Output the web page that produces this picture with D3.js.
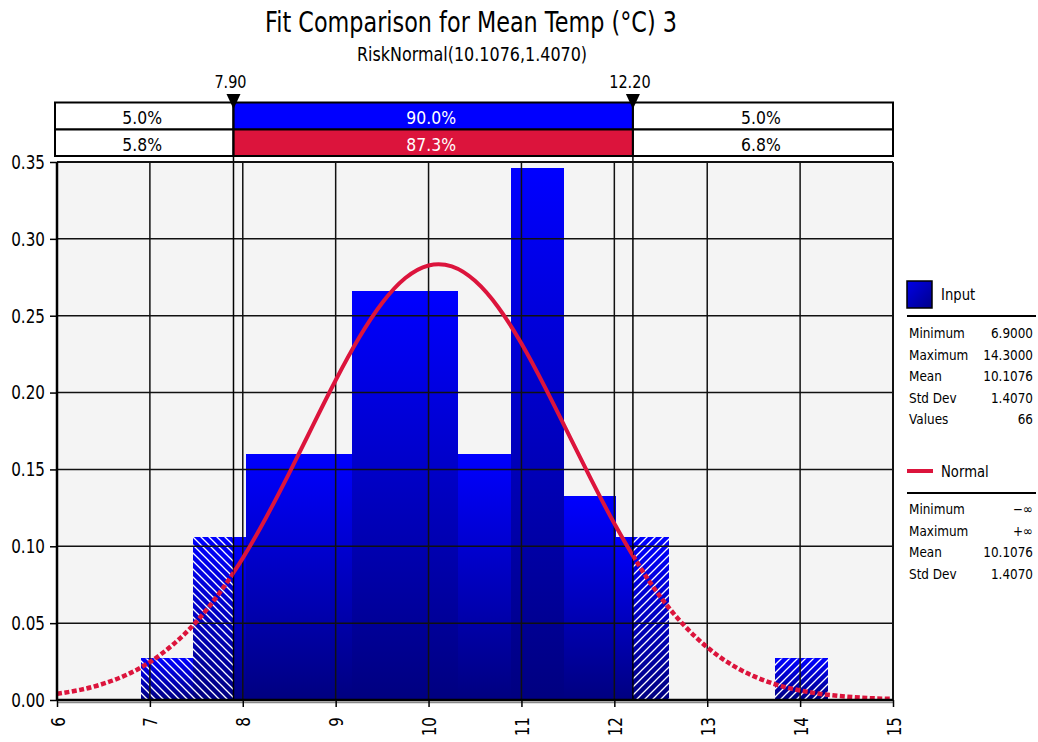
<!DOCTYPE html>
<html>
<head>
<meta charset="utf-8">
<script src="https://cdn.jsdelivr.net/npm/d3@7"></script>
<style>
  body { margin: 0; background: #fff; }
  svg { display: block; }
  text { font-family: "DejaVu Sans", sans-serif; fill: #000; }
</style>
</head>
<body>
<svg id="chart" width="1038" height="742"></svg>
<script>
// ---- data ----
var titleText = 'Fit Comparison for Mean Temp (°C) 3';
var subtitleText = 'RiskNormal(10.1076,1.4070)';

// histogram bins (13 equal bins from min 6.9 to max 14.3) and their density
var binEdges = [6.9, 7.469, 8.038, 8.608, 9.177, 9.746, 10.315, 10.885, 11.454, 12.023, 12.592, 13.162, 13.731, 14.3];
var binDensity = [0.027, 0.106, 0.160, 0.160, 0.266, 0.266, 0.160, 0.346, 0.133, 0.106, 0, 0, 0.027];

// fitted normal curve, read every 0.25
var curveX = [6, 6.25, 6.5, 6.75, 7, 7.25, 7.5, 7.75, 8, 8.25, 8.5, 8.75, 9, 9.25, 9.5, 9.75, 10, 10.25,
  10.5, 10.75, 11, 11.25, 11.5, 11.75, 12, 12.25, 12.5, 12.75, 13, 13.25, 13.5, 13.75, 14, 14.25, 14.5, 14.75, 15];
var curveY = [0.0040, 0.0066, 0.0106, 0.0164, 0.0247, 0.0361, 0.0509, 0.0697, 0.0923, 0.1186, 0.1476, 0.1780,
  0.2080, 0.2355, 0.2583, 0.2745, 0.2827, 0.2821, 0.2727, 0.2555, 0.2319, 0.2039, 0.1738, 0.1435, 0.1148,
  0.0890, 0.0668, 0.0486, 0.0343, 0.0234, 0.0155, 0.0099, 0.0062, 0.0037, 0.0022, 0.0012, 0.0007];

var markers = [7.90, 12.20];
var markerLabels = ['7.90', '12.20'];
var pctInput = ['5.0%', '90.0%', '5.0%'];
var pctFit = ['5.8%', '87.3%', '6.8%'];

var xTicks = [6, 7, 8, 9, 10, 11, 12, 13, 14, 15];
var yTicks = [0, 0.05, 0.10, 0.15, 0.20, 0.25, 0.30, 0.35];

var inputStatNames = ['Minimum', 'Maximum', 'Mean', 'Std Dev', 'Values'];
var inputStatValues = ['6.9000', '14.3000', '10.1076', '1.4070', '66'];
var fitStatNames = ['Minimum', 'Maximum', 'Mean', 'Std Dev'];
var fitStatValues = ['\u2212\u221e', '+\u221e', '10.1076', '1.4070'];

var BLUE = '#0000ff', CRIMSON = '#dc143c';

var svg = d3.select('#chart');
var defs = svg.append('defs');

var plot = {left: 57, right: 893, top: 162, bottom: 700};
var x = d3.scaleLinear().domain([6, 15]).range([plot.left, plot.right]);
var y = d3.scaleLinear().domain([0, 0.35]).range([plot.bottom, plot.top]);

// condense text horizontally (the reference font is narrow)
function squeeze(sel, k) {
  sel.each(function() {
    var w = this.getComputedTextLength();
    d3.select(this).attr('textLength', w * k).attr('lengthAdjust', 'spacingAndGlyphs');
  });
}

// ---- defs: gradients, hatches, clips ----
var grad = defs.append('linearGradient').attr('id', 'barGrad')
  .attr('x1', 0).attr('y1', 0).attr('x2', 0).attr('y2', 1);
grad.append('stop').attr('offset', 0).attr('stop-color', '#0000ff');
grad.append('stop').attr('offset', 1).attr('stop-color', '#000080');

var lgGrad = defs.append('linearGradient').attr('id', 'legGrad')
  .attr('x1', 0).attr('y1', 0).attr('x2', 1).attr('y2', 1);
lgGrad.append('stop').attr('offset', 0).attr('stop-color', '#0000e8');
lgGrad.append('stop').attr('offset', 1).attr('stop-color', '#00008a');

defs.append('pattern').attr('id', 'hatchBack')
  .attr('patternUnits', 'userSpaceOnUse').attr('width', 8).attr('height', 8)
  .append('path').attr('d', 'M0,0L8,8M-2,6L2,10M6,-2L10,2')
  .attr('stroke', '#fff').attr('stroke-width', 1.3);
defs.append('pattern').attr('id', 'hatchFwd')
  .attr('patternUnits', 'userSpaceOnUse').attr('width', 8).attr('height', 8)
  .append('path').attr('d', 'M0,8L8,0M-2,2L2,-2M6,10L10,6')
  .attr('stroke', '#fff').attr('stroke-width', 1.3);

function clipRects(id, rects) {
  var cp = defs.append('clipPath').attr('id', id);
  rects.forEach(function(r) {
    cp.append('rect').attr('x', r[0]).attr('y', plot.top).attr('width', r[1] - r[0]).attr('height', plot.bottom - plot.top);
  });
}
clipRects('clipPlot', [[plot.left, plot.right]]);
clipRects('clipLeft', [[plot.left, x(markers[0])]]);
clipRects('clipRight', [[x(markers[1]), plot.right]]);
clipRects('clipMid', [[x(markers[0]), x(markers[1])]]);
clipRects('clipOut', [[plot.left, x(markers[0])], [x(markers[1]), plot.right]]);

// ---- titles ----
var title = svg.append('text').attr('x', 471).attr('y', 32).attr('text-anchor', 'middle')
  .style('font-size', '29px').text(titleText);
squeeze(title, 0.77);
var sub = svg.append('text').attr('x', 472).attr('y', 61).attr('text-anchor', 'middle')
  .style('font-size', '19px').text(subtitleText);
squeeze(sub, 0.84);

// ---- percentage strip ----
var cells = [plot.left - 2, x(markers[0]), x(markers[1]), plot.right];
var rowsY = [102.5, 129.5, 156];
[pctInput, pctFit].forEach(function(row, r) {
  var fills = ['#fff', r === 0 ? BLUE : CRIMSON, '#fff'];
  row.forEach(function(label, i) {
    svg.append('rect')
      .attr('x', cells[i]).attr('y', rowsY[r])
      .attr('width', cells[i + 1] - cells[i]).attr('height', rowsY[r + 1] - rowsY[r])
      .attr('fill', fills[i]).attr('stroke', '#000').attr('stroke-width', 2);
    var t = svg.append('text')
      .attr('x', (cells[i] + cells[i + 1]) / 2 - 2).attr('y', rowsY[r] + 21)
      .attr('text-anchor', 'middle').style('font-size', '17px')
      .style('fill', i === 1 ? '#fff' : '#000')
      .text(label);
    squeeze(t, 0.92);
  });
});

// ---- plot area ----
svg.append('rect').attr('x', plot.left).attr('y', plot.top)
  .attr('width', plot.right - plot.left).attr('height', plot.bottom - plot.top)
  .attr('fill', '#f4f4f4');

var bins = binDensity.map(function(d, i) { return {x0: binEdges[i], x1: binEdges[i + 1], v: d}; })
  .filter(function(b) { return b.v > 0; });

var barG = svg.append('g').attr('clip-path', 'url(#clipPlot)');
barG.selectAll('rect.bar').data(bins).enter().append('rect')
  .attr('class', 'bar')
  .attr('x', function(d) { return Math.round(x(d.x0)); })
  .attr('y', function(d) { return y(d.v); })
  .attr('width', function(d) { return Math.round(x(d.x1)) - Math.round(x(d.x0)); })
  .attr('height', function(d) { return y(0) - y(d.v); })
  .attr('shape-rendering', 'crispEdges')
  .attr('fill', 'url(#barGrad)');

// hatching on the tails
[['clipLeft', 'hatchBack'], ['clipRight', 'hatchFwd']].forEach(function(h) {
  svg.append('g').attr('clip-path', 'url(#' + h[0] + ')')
    .selectAll('rect').data(bins).enter().append('rect')
    .attr('x', function(d) { return Math.round(x(d.x0)); })
    .attr('y', function(d) { return y(d.v); })
    .attr('width', function(d) { return Math.round(x(d.x1)) - Math.round(x(d.x0)); })
    .attr('height', function(d) { return y(0) - y(d.v); })
    .attr('fill', 'url(#' + h[1] + ')');
});

// grid
var grid = svg.append('g').attr('stroke', '#111').attr('stroke-width', 1.5);
grid.selectAll('line.vx').data(xTicks.slice(1, -1)).enter().append('line')
  .attr('x1', function(d) { return x(d); }).attr('x2', function(d) { return x(d); })
  .attr('y1', plot.top).attr('y2', plot.bottom);
grid.selectAll('line.hy').data(yTicks.slice(1, -1)).enter().append('line')
  .attr('y1', function(d) { return y(d); }).attr('y2', function(d) { return y(d); })
  .attr('x1', plot.left).attr('x2', plot.right);

// marker lines + triangles
markers.forEach(function(m, i) {
  svg.append('line').attr('x1', x(m)).attr('x2', x(m)).attr('y1', 96).attr('y2', plot.bottom)
    .attr('stroke', '#000').attr('stroke-width', 1.5);
  svg.append('path')
    .attr('d', 'M' + (x(m) - 7) + ',94L' + (x(m) + 7) + ',94L' + x(m) + ',109Z')
    .attr('fill', '#000');
  var t = svg.append('text').attr('x', x(m) - 3).attr('y', 88).attr('text-anchor', 'middle')
    .style('font-size', '17px').text(markerLabels[i]);
  squeeze(t, 0.85);
});

// fitted curve
var line = d3.line()
  .x(function(d, i) { return x(curveX[i]); })
  .y(function(d) { return y(d); })
  .curve(d3.curveNatural);
svg.append('path').datum(curveY).attr('d', line)
  .attr('clip-path', 'url(#clipMid)')
  .attr('fill', 'none').attr('stroke', CRIMSON).attr('stroke-width', 4);
svg.append('path').datum(curveY).attr('d', line)
  .attr('clip-path', 'url(#clipOut)')
  .attr('fill', 'none').attr('stroke', CRIMSON).attr('stroke-width', 4.5)
  .attr('stroke-dasharray', '5,2.5');

// frame
svg.append('line').attr('x1', plot.left).attr('x2', plot.right).attr('y1', plot.top).attr('y2', plot.top)
  .attr('stroke', '#111').attr('stroke-width', 2);
svg.append('line').attr('x1', plot.right).attr('x2', plot.right).attr('y1', plot.top).attr('y2', plot.bottom)
  .attr('stroke', '#111').attr('stroke-width', 2);
svg.append('line').attr('x1', plot.left).attr('x2', plot.right).attr('y1', plot.bottom + 2.5).attr('y2', plot.bottom + 2.5)
  .attr('stroke', '#888').attr('stroke-width', 1.5);

// axes
var yAxis = svg.append('g').attr('transform', 'translate(' + plot.left + ',0)')
  .call(d3.axisLeft(y).tickValues(yTicks).tickFormat(d3.format('.2f')).tickSize(7).tickPadding(5));
var xAxis = svg.append('g').attr('transform', 'translate(0,' + plot.bottom + ')')
  .call(d3.axisBottom(x).tickValues(xTicks).tickFormat(d3.format('d')).tickSize(7));
[yAxis, xAxis].forEach(function(a) {
  a.select('.domain').attr('stroke', '#000').attr('stroke-width', 2.5);
  a.selectAll('.tick line').attr('stroke', '#000').attr('stroke-width', 1.5);
  a.selectAll('text').style('font-size', '20px').attr('font-family', null);
});
yAxis.select('.domain').attr('d', 'M0,' + plot.top + 'V' + plot.bottom);
xAxis.select('.domain').attr('d', 'M' + plot.left + ',0H' + plot.right);
xAxis.selectAll('text')
  .attr('transform', 'rotate(-90)')
  .attr('text-anchor', 'end')
  .attr('x', -17).attr('y', 0).attr('dy', '0.35em');
squeeze(yAxis.selectAll('text'), 0.76);
squeeze(xAxis.selectAll('text'), 0.76);

// ---- legend ----
var lx = 907, lr = 1033;
svg.append('rect').attr('x', lx).attr('y', 281).attr('width', 25).attr('height', 27)
  .attr('fill', 'url(#legGrad)').attr('stroke', '#000').attr('stroke-width', 1.5);
squeeze(svg.append('text').attr('x', 941).attr('y', 300).style('font-size', '15px').text('Input'), 0.88);
svg.append('line').attr('x1', lx).attr('x2', 1036).attr('y1', 316).attr('y2', 316)
  .attr('stroke', '#000').attr('stroke-width', 2);

function statRows(names, values, top) {
  names.forEach(function(n, i) {
    var ty = top + i * 21.6;
    squeeze(svg.append('text').attr('x', lx + 2).attr('y', ty)
      .style('font-size', '14px').text(n), 0.86);
    // right-aligned values: condensed with a transform so the box stays honest
    svg.append('text')
      .attr('transform', 'translate(' + lr + ',' + ty + ') scale(0.86,1)')
      .attr('text-anchor', 'end')
      .style('font-size', '14px').text(values[i]);
  });
}
statRows(inputStatNames, inputStatValues, 338);

svg.append('line').attr('x1', lx).attr('x2', lx + 26).attr('y1', 471).attr('y2', 471)
  .attr('stroke', CRIMSON).attr('stroke-width', 4);
squeeze(svg.append('text').attr('x', 941).attr('y', 477).style('font-size', '15px').text('Normal'), 0.88);
svg.append('line').attr('x1', lx).attr('x2', 1036).attr('y1', 493).attr('y2', 493)
  .attr('stroke', '#000').attr('stroke-width', 2);
statRows(fitStatNames, fitStatValues, 514);
</script>
</body>
</html>
